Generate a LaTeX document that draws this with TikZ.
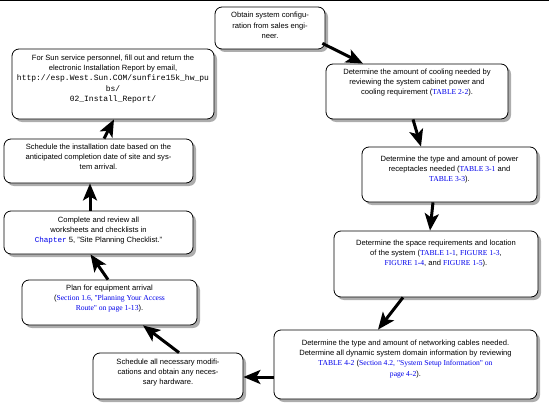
\documentclass[tikz,border=0pt]{standalone}
\usepackage{fontspec}
\setmainfont{Liberation Sans}
\setmonofont{Liberation Mono}
\newfontfamily\linkfont{Liberation Serif}
\usetikzlibrary{shadows,arrows.meta}
\definecolor{linkblue}{RGB}{0,0,235}
\newcommand{\lnk}[1]{{\color{linkblue}\linkfont #1}}
\newcommand{\lnkmono}[1]{{\color{linkblue}\ttfamily #1}}
\begin{document}
\begin{tikzpicture}[x=1pt,y=-1pt,
  box/.style={draw, line width=0.8pt, rounded corners=7pt, fill=white,
    drop shadow={shadow xshift=3pt, shadow yshift=-3pt, fill=black!32, opacity=1},
    inner sep=0pt},
  txt/.style={align=center, inner sep=0pt, anchor=north, font=\fontsize{7.6}{10.3}\selectfont},
  arr/.style={line width=3pt, -{Stealth[length=17pt,width=14pt,inset=4pt]}}]
\useasboundingbox (0,0) rectangle (549,404);
\coordinate (tl) at (0,0.7);
\coordinate (tr) at (549,0.7);
\draw[line width=1.4pt] (tl) -- (tr);

% boxes
\node[box, minimum width=110pt, minimum height=42pt] (obtain) at (270,28) {};
\node[box, minimum width=182pt, minimum height=55pt] (cool) at (417,91.5) {};
\node[box, minimum width=175pt, minimum height=55pt] (power) at (449.5,174.5) {};
\node[box, minimum width=204pt, minimum height=66pt] (space) at (436,264) {};
\node[box, minimum width=263pt, minimum height=69pt] (net) at (405.5,364.5) {};
\node[box, minimum width=150pt, minimum height=46pt] (mods) at (168,376) {};
\node[box, minimum width=175pt, minimum height=45pt] (plan) at (109.5,302.5) {};
\node[box, minimum width=189pt, minimum height=43pt] (complete) at (98.5,232.5) {};
\node[box, minimum width=189pt, minimum height=44pt] (sched) at (98.5,161) {};
\node[box, minimum width=202pt, minimum height=70pt] (sun) at (113,84) {};

% texts
\node[txt] (obtaint) at ([yshift=-5.5pt]obtain.north) {Obtain system configu-\\ration from sales engi-\\neer.};
\node[txt] (coolt) at ([yshift=-5pt]cool.north) {Determine the amount of cooling needed by\\reviewing the system cabinet power and\\cooling requirement (\lnk{TABLE 2-2}).};
\node[txt] (powert) at ([yshift=-9pt]power.north) {Determine the type and amount of power\\receptacles needed (\lnk{TABLE 3-1} and\\\lnk{TABLE 3-3}).};
\node[txt] (spacet) at ([yshift=-9pt]space.north) {Determine the space requirements and location\\of the system (\lnk{TABLE 1-1}, \lnk{FIGURE 1-3},\\\lnk{FIGURE 1-4}, and \lnk{FIGURE 1-5}).};
\node[txt] (nett) at ([yshift=-10pt]net.north) {Determine the type and amount of networking cables needed.\\Determine all dynamic system domain information by reviewing\\\lnk{TABLE 4-2} (\lnk{Section 4.2, "System Setup Information" on}\\\lnk{page 4-2}).};
\node[txt] (modst) at ([yshift=-6pt]mods.north) {Schedule all necessary modifi-\\cations and obtain any neces-\\sary hardware.};
\node[txt] (plant) at ([yshift=-5pt]plan.north) {Plan for equipment arrival\\(\lnk{Section 1.6, "Planning Your Access}\\\lnk{Route" on page 1-13}).};
\node[txt] (completet) at ([yshift=-6pt]complete.north) {Complete and review all\\worksheets and checklists in\\\lnkmono{Chapter} 5, "Site Planning Checklist."};
\node[txt] (schedt) at ([yshift=-5pt]sched.north) {Schedule the installation date based on the\\anticipated completion date of site and sys-\\tem arrival.};
\node[txt] (sunt) at ([yshift=-6pt]sun.north) {For Sun service personnel, fill out and return the\\electronic Installation Report by email,\\{\ttfamily\fontsize{8}{10.3}\selectfont http://esp.West.Sun.COM/sunfire15k\_hw\_pu}\\{\ttfamily\fontsize{8}{10.3}\selectfont bs/}\\{\ttfamily\fontsize{8}{10.3}\selectfont 02\_Install\_Report/}};

% arrows
\draw[arr] ([xshift=-3pt,yshift=6pt]obtain.south east) -- ([xshift=-54pt]cool.north);
\draw[arr] ([xshift=-4pt]cool.south) -- ([xshift=-28.5pt]power.north);
\draw[arr] ([xshift=-16.5pt]power.south) -- ([xshift=-6pt]space.north);
\draw[arr] ([xshift=-33pt]space.south) -- ([xshift=-27.5pt]net.north);
\draw[arr] ([yshift=-12.5pt]net.west) -- ([yshift=-1pt]mods.east);
\draw[arr] ([xshift=11pt]mods.north) -- ([xshift=33.5pt]plan.south);
\draw[arr] ([xshift=-1.5pt]plan.north) -- ([xshift=-8pt]complete.south);
\draw[arr] ([xshift=-8.5pt]complete.north) -- ([xshift=-8.5pt]sched.south);
\draw[arr] ([xshift=5.5pt]sched.north) -- ([xshift=1pt]sun.south);
\end{tikzpicture}
\end{document}
